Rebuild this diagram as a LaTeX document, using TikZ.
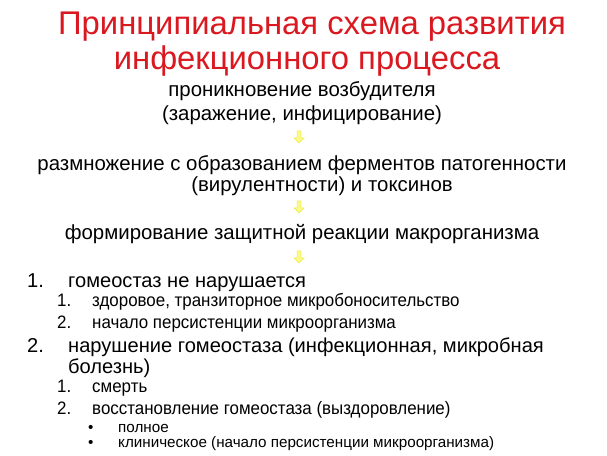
\documentclass[tikz,border=0pt]{standalone}
\usepackage{fontspec}
\setmainfont{Liberation Sans}
\newfontfamily\narrowfont[FakeStretch=0.94]{Liberation Sans}
\usetikzlibrary{shapes.arrows}
\definecolor{titlered}{RGB}{218,24,32}
\definecolor{arrowfill}{RGB}{250,250,140}
\definecolor{arrowline}{RGB}{235,235,60}
\tikzset{
  ttl/.style={anchor=base, inner sep=0pt, text=titlered, font=\fontsize{32.8}{38}\selectfont},
  ctr/.style={anchor=base, inner sep=0pt, font=\fontsize{20.4}{24}\selectfont},
  lvl/.style={anchor=base west, inner sep=0pt, font=\fontsize{20.1}{24}\selectfont},
  sub/.style={anchor=base west, inner sep=0pt, font=\narrowfont\fontsize{18}{20}\selectfont},
  subsub/.style={anchor=base west, inner sep=0pt, font=\fontsize{15.2}{18}\selectfont},
  downarrow/.style={single arrow, shape border rotate=270, draw=arrowline, fill=arrowfill,
    line width=0.6pt, minimum height=12pt, minimum width=10pt, single arrow head extend=2.5pt,
    single arrow tip angle=90, inner sep=1.2pt}
}
\begin{document}
\begin{tikzpicture}[x=1pt,y=-1pt]
\useasboundingbox (0,0) rectangle (607,455);
\node[ttl] (t1) at (312,34.5) {Принципиальная схема развития};
\node[ttl] (t2) at (307,69) {инфекционного процесса};
\node[ctr] (p1) at (302,96.5) {проникновение возбудителя};
\node[ctr] (p2) at (302,120.5) {(заражение, инфицирование)};
\node[downarrow] (a1) at (299,136) {};
\node[ctr] (r1) at (302,170) {размножение с образованием ферментов патогенности};
\node[ctr] (r2) at (322,191) {(вирулентности) и токсинов};
\node[downarrow] (a2) at (299,206) {};
\node[ctr] (f1) at (302,239) {формирование защитной реакции макрорганизма};
\node[downarrow] (a3) at (299,256) {};
\node[lvl] (n1) at (27,287) {1.};
\node[lvl] (l1) at (68,287) {гомеостаз не нарушается};
\node[sub] (n11) at (57,306) {1.};
\node[sub] (l11) at (92,306) {здоровое, транзиторное микробоносительство};
\node[sub] (n12) at (57,328) {2.};
\node[sub] (l12) at (92,328) {начало персистенции микроорганизма};
\node[lvl] (n2) at (27,352) {2.};
\node[lvl] (l2) at (68,352) {нарушение гомеостаза (инфекционная, микробная};
\node[lvl] (l2b) at (68,373) {болезнь)};
\node[sub] (n21) at (57,392) {1.};
\node[sub] (l21) at (92,392) {смерть};
\node[sub] (n22) at (57,414) {2.};
\node[sub] (l22) at (92,414) {восстановление гомеостаза (выздоровление)};
\node[subsub] (b1) at (88,432) {•};
\node[subsub] (l221) at (118,432) {полное};
\node[subsub] (b2) at (88,447) {•};
\node[subsub] (l222) at (118,447) {клиническое (начало персистенции микроорганизма)};
\end{tikzpicture}
\end{document}
